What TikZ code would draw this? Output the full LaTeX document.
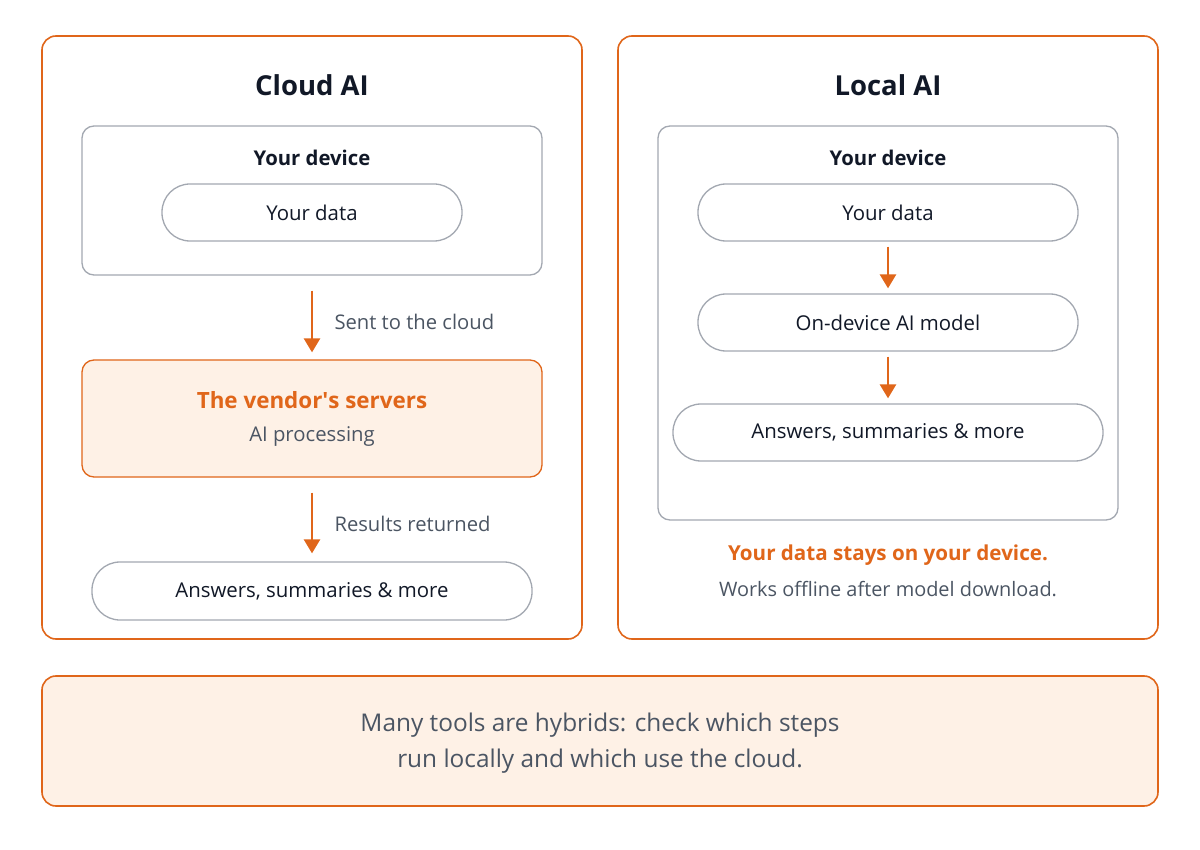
\documentclass[tikz,border=0pt]{standalone}
\usepackage{fontspec}
\setmainfont{Open Sans}
\newfontfamily\plainq{Open Sans}
\usetikzlibrary{arrows.meta}
\definecolor{orng}{HTML}{E0661A}
\definecolor{lfill}{HTML}{FEF1E6}
\definecolor{gbord}{HTML}{A3A8B1}
\definecolor{dtext}{HTML}{111827}
\definecolor{gtext}{HTML}{4B5563}
\tikzset{
  outerbox/.style={draw=orng, line width=1.6pt, rounded corners=14pt, inner sep=0pt},
  devbox/.style={draw=gbord, line width=1.3pt, rounded corners=12pt, inner sep=0pt, fill=white},
  pill/.style={draw=gbord, line width=1.3pt, rounded corners=28pt, inner sep=0pt, fill=white, text=dtext, font=\fontsize{20.4}{24}\selectfont},
  title/.style={text=dtext, font=\fontsize{27.5}{32}\selectfont\bfseries},
  subtitle/.style={text=dtext, font=\fontsize{20.3}{24}\selectfont\bfseries},
  note/.style={text=gtext, font=\fontsize{20.2}{24}\selectfont, anchor=west},
  flow/.style={draw=orng, line width=2.6pt, -{Triangle[width=16pt,length=14pt]}},
}
\begin{document}
\begin{tikzpicture}[x=1pt,y=-1pt]
\useasboundingbox (0,0) rectangle (1200,850);
\fill[white] (0,0) rectangle (1200,850);
% outer panels
\node[outerbox, minimum width=540pt, minimum height=603pt] (cloud) at (312,337.5) {};
\node[outerbox, minimum width=540pt, minimum height=603pt] (local) at (888,337.5) {};
\node[outerbox, fill=lfill, minimum width=1116pt, minimum height=130pt] (hyb) at (600,741) {};
\node[text=gtext, font=\fontsize{24.4}{36}\selectfont, align=center] (hybt) at (600,743) {Many tools are hybrids: check which steps\\run locally and which use the cloud.};
% Cloud AI
\node[title] (ctitle) at (312,85) {Cloud AI};
\node[devbox, minimum width=460pt, minimum height=149pt] (cdev) at (312,200.5) {};
\node[subtitle] (cdevt) at (312,157.5) {Your device};
\node[pill, minimum width=300pt, minimum height=57pt] (cdata) at (312,212.5) {Your data};
\node[draw=orng, line width=1.3pt, rounded corners=12pt, fill=lfill, minimum width=460pt, minimum height=117pt] (vend) at (312,418.5) {};
\node[text=orng, font=\fontsize{22.4}{26}\selectfont\bfseries] (vendt) at (312,400.5) {The vendor{\plainq '}s servers};
\node[text=gtext, font=\fontsize{20.3}{24}\selectfont] (vendp) at (312,436.5) {AI processing};
\node[pill, minimum width=440pt, minimum height=58pt] (cans) at (312,591) {Answers, summaries \& more};
\draw[flow, shorten <=15pt, shorten >=7pt] (cdev.south) -- (vend.north);
\draw[flow, shorten <=15pt, shorten >=8pt] (vend.south) -- (cans.north);
\node[note] (sent) at (331,321.5) {Sent to the cloud};
\node[note] (ret) at (331,523.5) {Results returned};
% Local AI
\node[title] (ltitle) at (888,85) {Local AI};
\node[devbox, minimum width=460pt, minimum height=394pt] (ldev) at (888,323) {};
\node[subtitle] (ldevt) at (888,157.5) {Your device};
\node[pill, minimum width=380pt, minimum height=57pt] (ldata) at (888,212.5) {Your data};
\node[pill, minimum width=380pt, minimum height=57pt] (lmodel) at (888,322.5) {On-device AI model};
\node[pill, minimum width=430pt, minimum height=57pt] (lans) at (888,432.5) {Answers, summaries \& more};
\draw[flow, shorten <=5pt, shorten >=5pt] (ldata.south) -- (lmodel.north);
\draw[flow, shorten <=5pt, shorten >=5pt] (lmodel.south) -- (lans.north);
\node[text=orng, font=\fontsize{20.6}{24}\selectfont\bfseries] (stays) at (888,555) {Your data stays on your device.};
\node[text=gtext, font=\fontsize{19.9}{24}\selectfont] (offl) at (888,589.5) {Works offline after model download.};
\end{tikzpicture}
\end{document}
